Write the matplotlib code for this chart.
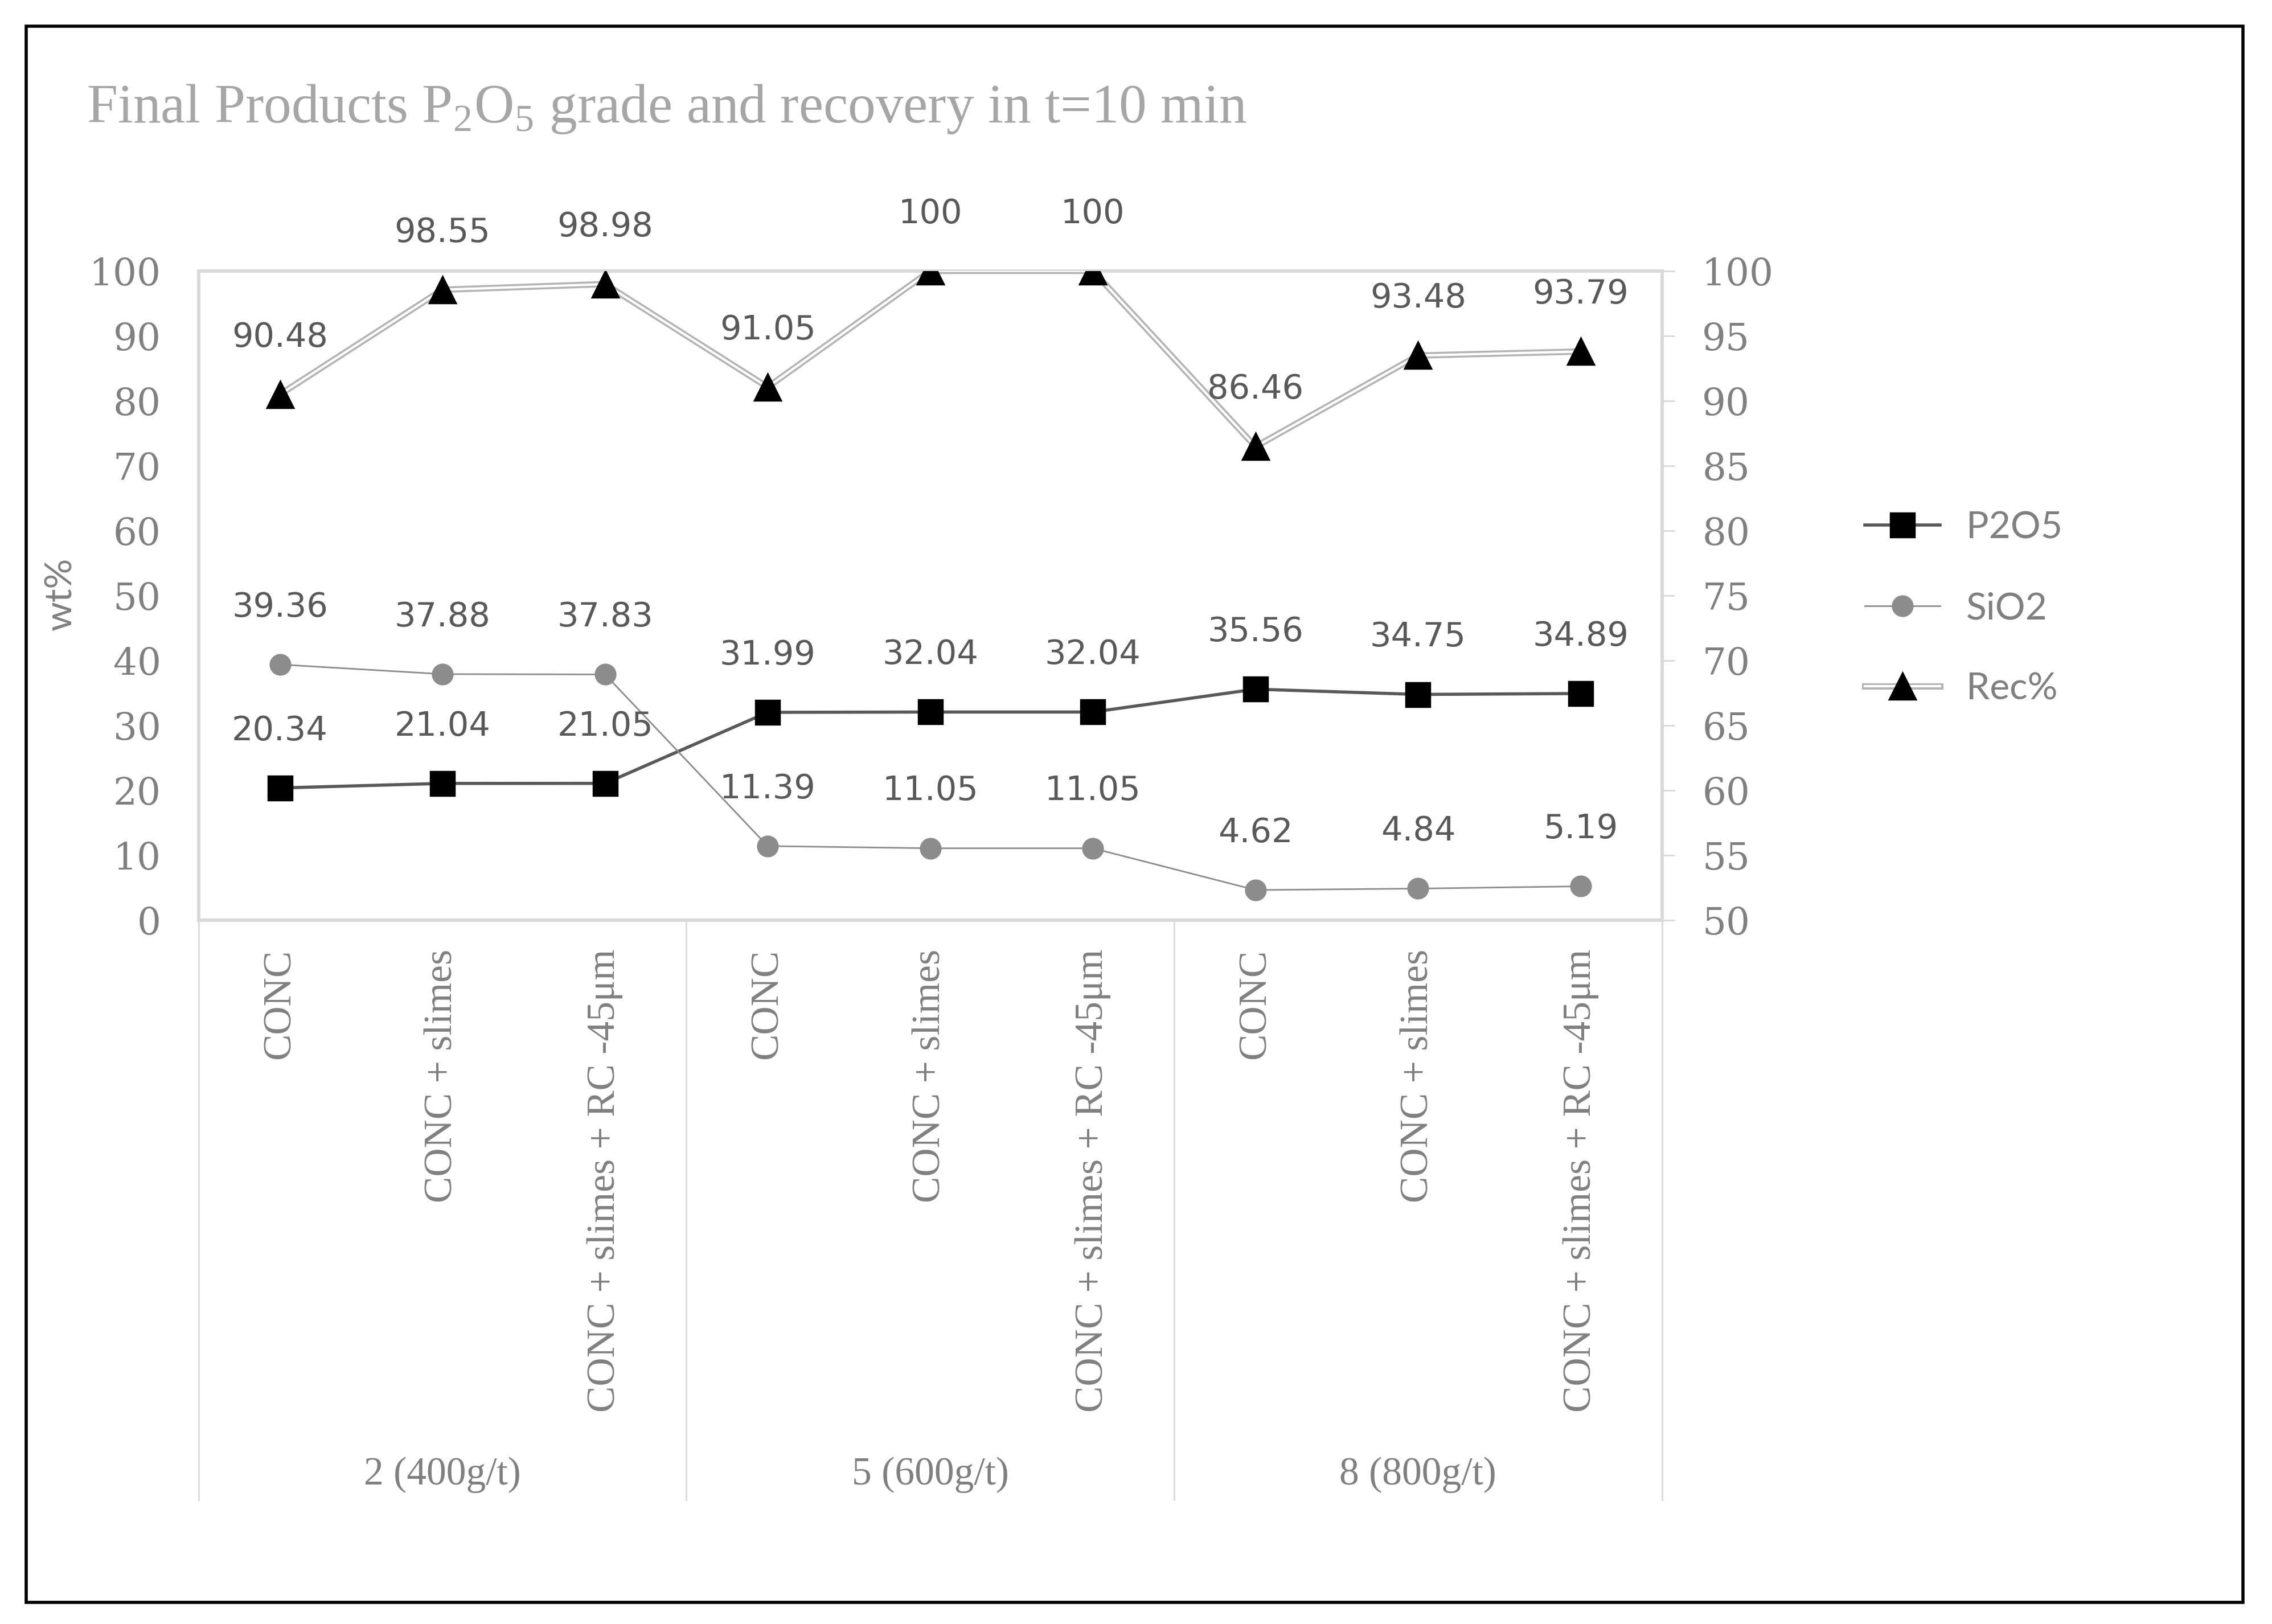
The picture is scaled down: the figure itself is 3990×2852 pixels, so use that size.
import matplotlib
matplotlib.use("Agg")
import matplotlib.pyplot as plt
from matplotlib.lines import Line2D
from matplotlib.patches import Rectangle
import numpy as np

plt.rcParams["mathtext.fontset"] = "custom"
plt.rcParams["mathtext.rm"] = "Liberation Serif"

# data
groups = ["2 (400g/t)", "5 (600g/t)", "8 (800g/t)"]
products = ["CONC", "CONC + slimes", "CONC + slimes + RC -45μm"]
p2o5 = [20.34, 21.04, 21.05, 31.99, 32.04, 32.04, 35.56, 34.75, 34.89]
sio2 = [39.36, 37.88, 37.83, 11.39, 11.05, 11.05, 4.62, 4.84, 5.19]
rec = [90.48, 98.55, 98.98, 91.05, 100, 100, 86.46, 93.48, 93.79]

GRID = "#d9d9d9"; TICK = "#808080"; LAB = "#595959"
x = np.arange(len(p2o5))

fig = plt.figure(figsize=(15.96, 11.408), dpi=250)
ax = fig.add_axes([0.0874, 0.4335, 0.7315 - 0.0874, 0.8332 - 0.4335])
ax2 = ax.twinx()

ax.plot(x, p2o5, color="#595959", lw=1.6, marker="s", ms=12, mfc="black", mec="black", zorder=3)
ax.plot(x, sio2, color="#8c8c8c", lw=0.8, marker="o", ms=10, mfc="#8c8c8c", mec="#8c8c8c", zorder=3)
ax2.plot(x, rec, color="#b3b3b3", lw=3.2, solid_capstyle="butt", zorder=3)
ax2.plot(x, rec, color="white", lw=1.2, solid_capstyle="butt", zorder=3)
ax2.plot(x, rec, ls="none", marker="^", ms=13, mfc="black", mec="black", zorder=4)

for xi, v in zip(x, p2o5):
    ax.annotate(f"{v:g}", (xi, v), xytext=(0, 29), textcoords="offset points", ha="center", va="center",
                fontsize=17, color=LAB, family="DejaVu Sans")
for xi, v in zip(x, sio2):
    ax.annotate(f"{v:g}", (xi, v), xytext=(0, 29), textcoords="offset points", ha="center", va="center",
                fontsize=17, color=LAB, family="DejaVu Sans")
for xi, v in zip(x, rec):
    ax2.annotate(f"{v:g}", (xi, v), xytext=(0, 29), textcoords="offset points", ha="center", va="center",
                 fontsize=17, color=LAB, family="DejaVu Sans", annotation_clip=False)

ax.set_xlim(-0.5, len(x) - 0.5)
ax.set_ylim(0, 100); ax.set_yticks(np.arange(0, 101, 10))
ax2.set_ylim(50, 100); ax2.set_yticks(np.arange(50, 101, 5))
ax.set_xticks([])
for a in (ax, ax2):
    for s in a.spines.values():
        s.set_color(GRID); s.set_linewidth(1.6)
ax.tick_params(axis="y", length=0, pad=19, labelsize=19, labelcolor=TICK)
ax2.tick_params(axis="y", length=6.3, width=0.8, color=GRID, pad=14, labelsize=19, labelcolor=TICK)
for t in ax.get_yticklabels() + ax2.get_yticklabels():
    t.set_family("DejaVu Serif")
ax.text(42 / 1568, 1 - 410 / 1121, "wt%", transform=fig.transFigure, rotation=90, ha="center", va="center",
        fontsize=19, color=TICK, family="Lato")

# two-level category axis
for b in [-0.5, 2.5, 5.5, 8.5]:
    ax.plot([b, b], [0, -0.893], transform=ax.get_xaxis_transform(), color=GRID, lw=0.8, clip_on=False)
for gi, g in enumerate(groups):
    for pi, p in enumerate(products):
        ax.text(gi * 3 + pi, -0.045, p, transform=ax.get_xaxis_transform(), rotation=90,
                ha="center", va="top", fontsize=20, color=TICK, family="Liberation Serif")
    ax.text(gi * 3 + 1, -0.855, g, transform=ax.get_xaxis_transform(), ha="center", va="center",
            fontsize=20, color=TICK, family="Liberation Serif")

fig.text(0.038, 0.933, "Final Products P$_2$O$_5$ grade and recovery in t=10 min", fontsize=28,
         color="#a6a6a6", family="Liberation Serif", ha="left", va="center")

h1 = Line2D([], [], color="#595959", lw=1.6, marker="s", ms=12, mfc="black", mec="black")
h2 = Line2D([], [], color="#8c8c8c", lw=0.8, marker="o", ms=10, mfc="#8c8c8c", mec="#8c8c8c")
h3a = Line2D([], [], color="#b3b3b3", lw=3.2)
h3b = Line2D([], [], color="white", lw=1.2)
h3c = Line2D([], [], ls="none", marker="^", ms=13, mfc="black", mec="black")
leg = fig.legend([h1, h2, (h3a, h3b, h3c)], ["P2O5", "SiO2", "Rec%"], loc="center left",
                 bbox_to_anchor=(1287 / 1568, 1 - 420 / 1121), frameon=False,
                 handlelength=2.0, handletextpad=0.7, labelspacing=1.25, borderpad=0, borderaxespad=0,
                 prop={"family": "Lato", "size": 19})
for t in leg.get_texts():
    t.set_color(TICK)

fig.patches.append(Rectangle((0.0115, 0.0134), 0.9758, 0.9706, transform=fig.transFigure,
                             fill=False, edgecolor="black", lw=1.6))
fig.savefig("out.png", dpi=250)
